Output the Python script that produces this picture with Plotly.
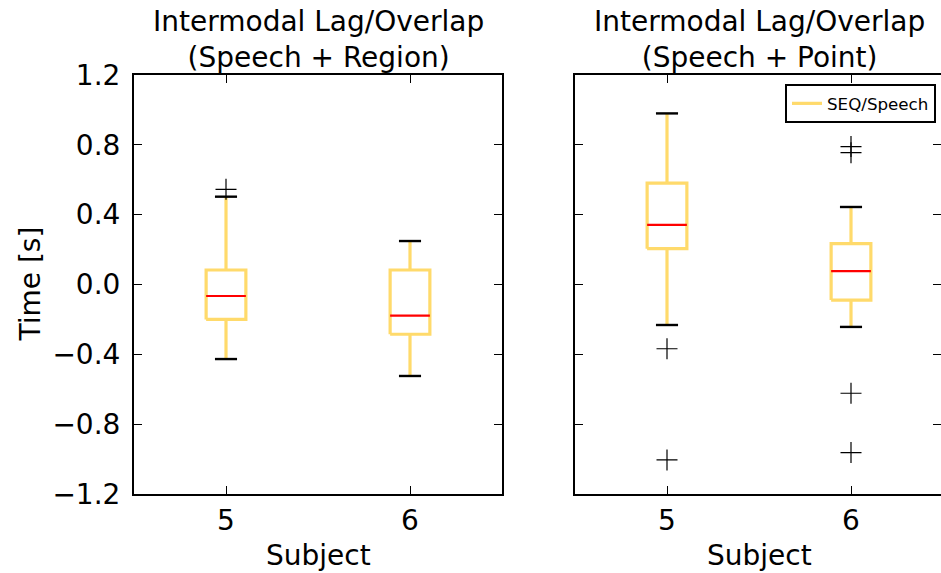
import plotly.graph_objects as go

# ---------------- data ----------------
subjects = [5, 6]
panel_titles = ["Intermodal Lag/Overlap<br>(Speech + Region)",
                "Intermodal Lag/Overlap<br>(Speech + Point)"]

# Speech + Region
region_whislo = [-0.427, -0.524]
region_q1 = [-0.200, -0.285]
region_med = [-0.066, -0.178]
region_q3 = [0.083, 0.083]
region_whishi = [0.503, 0.249]
region_fliers = [[0.545], []]

# Speech + Point
point_whislo = [-0.232, -0.243]
point_q1 = [0.205, -0.089]
point_med = [0.341, 0.077]
point_q3 = [0.581, 0.234]
point_whishi = [0.980, 0.444]
point_fliers = [[-0.368, -1.005], [0.790, 0.755, -0.623, -0.963]]

ytick_vals = [-1.2, -0.8, -0.4, 0.0, 0.4, 0.8, 1.2]
ytick_text = ["\u22121.2", "\u22120.8", "\u22120.4", "0.0", "0.4", "0.8", "1.2"]
legend_label = "SEQ/Speech"

# ---------------- style ----------------
FONT = "DejaVu Sans"
YELLOW = "#FFDA6B"
BOX_HW = 0.108
CAP_HW = 0.06

fig = go.Figure()


def add_panel(xref, yref, whislo, q1, med, q3, whishi, fliers, showleg):
    bx, by, wx, wy, cx, cy, mx, my, fx, fy = [], [], [], [], [], [], [], [], [], []
    for i, s in enumerate(range(1, len(subjects) + 1)):
        bx += [s - BOX_HW, s + BOX_HW, s + BOX_HW, s - BOX_HW, s - BOX_HW, None]
        by += [q1[i], q1[i], q3[i], q3[i], q1[i], None]
        wx += [s, s, None, s, s, None]
        wy += [q1[i], whislo[i], None, q3[i], whishi[i], None]
        cx += [s - CAP_HW, s + CAP_HW, None, s - CAP_HW, s + CAP_HW, None]
        cy += [whislo[i], whislo[i], None, whishi[i], whishi[i], None]
        mx += [s - BOX_HW, s + BOX_HW, None]
        my += [med[i], med[i], None]
        for f in fliers[i]:
            fx.append(s)
            fy.append(f)
    common = dict(xaxis=xref, yaxis=yref, mode="lines", hoverinfo="skip")
    fig.add_trace(go.Scatter(x=wx, y=wy, line=dict(color=YELLOW, width=3.2),
                             showlegend=False, **common))
    fig.add_trace(go.Scatter(x=cx, y=cy, line=dict(color="black", width=2.4),
                             showlegend=False, **common))
    fig.add_trace(go.Scatter(x=bx, y=by, line=dict(color=YELLOW, width=3.2),
                             name=legend_label, showlegend=showleg, **common))
    fig.add_trace(go.Scatter(x=mx, y=my, line=dict(color="red", width=2.2),
                             showlegend=False, **common))
    fig.add_trace(go.Scatter(x=fx, y=fy, xaxis=xref, yaxis=yref, mode="markers",
                             marker=dict(symbol="cross-thin-open", size=15, color="black",
                                         line=dict(color="black", width=1.2)),
                             showlegend=False, hoverinfo="skip"))


add_panel("x", "y", region_whislo, region_q1, region_med, region_q3,
          region_whishi, region_fliers, False)
add_panel("x2", "y2", point_whislo, point_q1, point_med, point_q3,
          point_whishi, point_fliers, True)

W, H = 941, 573
y_dom = [1 - 494 / H, 1 - 75 / H]
x1_dom = [134 / W, 502 / W]
x2_dom = [575 / W, 1.0]
px_per_unit = (502 - 134) / 2.0
x2_end = 0.5 + (941 - 575) / px_per_unit

tick_common = dict(ticks="inside", ticklen=8, tickwidth=1, tickcolor="black",
                   showgrid=False, zeroline=False, automargin=False,
                   tickfont=dict(family=FONT, size=28, color="black"))
axis_common = dict(showline=True, linecolor="black", linewidth=2, mirror="ticks",
                   **tick_common)

fig.update_layout(
    width=W, height=H, margin=dict(l=0, r=0, t=0, b=0, autoexpand=False),
    paper_bgcolor="white", plot_bgcolor="white",
    font=dict(family=FONT, color="black"),
    xaxis=dict(domain=x1_dom, anchor="y", range=[0.5, 2.5],
               tickvals=[1, 2], ticktext=[str(s) for s in subjects],
               ticklabelstandoff=0, **axis_common),
    yaxis=dict(domain=y_dom, anchor="x", range=[-1.2, 1.2],
               tickvals=ytick_vals, ticktext=ytick_text,
               ticklabelstandoff=6, **axis_common),
    xaxis2=dict(domain=x2_dom, anchor="y2", range=[0.5, x2_end],
                tickvals=[1, 2], ticktext=[str(s) for s in subjects],
                ticklabelstandoff=0, **axis_common),
    yaxis2=dict(domain=y_dom, anchor="x2", range=[-1.2, 1.2],
                tickvals=ytick_vals, showticklabels=False,
                showline=True, linecolor="black", linewidth=2, mirror=False,
                **tick_common),
    yaxis3=dict(overlaying="y2", anchor="x2", side="right", range=[-1.2, 1.2],
                tickvals=ytick_vals, showticklabels=False, showline=False,
                **tick_common),
    legend=dict(x=936 / W, y=1 - 84 / H, xanchor="right", yanchor="top",
                bgcolor="white", bordercolor="black", borderwidth=2,
                font=dict(family=FONT, size=16.7, color="black"),
                itemwidth=30, tracegroupgap=0),
    showlegend=True,
)

# invisible trace so the right-side tick axis is rendered
fig.add_trace(go.Scatter(x=[None], y=[None], xaxis="x2", yaxis="y3",
                         showlegend=False, hoverinfo="skip"))

ann = []
centers = [(134 + 502) / 2 / W, (575 + 943) / 2 / W]
for c, t in zip(centers, panel_titles):
    ann.append(dict(x=c, y=1 - 39 / H, xref="paper", yref="paper",
                    xanchor="center", yanchor="middle", text=t, showarrow=False,
                    font=dict(family=FONT, size=28, color="black")))
    ann.append(dict(x=c, y=1 - 555 / H, xref="paper", yref="paper",
                    xanchor="center", yanchor="middle", text="Subject",
                    showarrow=False, font=dict(family=FONT, size=28, color="black")))
ann.append(dict(x=30 / W, y=(1 - 284.5 / H), xref="paper", yref="paper",
                xanchor="center", yanchor="middle", text="Time [s]", textangle=-90,
                showarrow=False, font=dict(family=FONT, size=28, color="black")))
fig.update_layout(annotations=ann)

fig.write_html("out.html")
